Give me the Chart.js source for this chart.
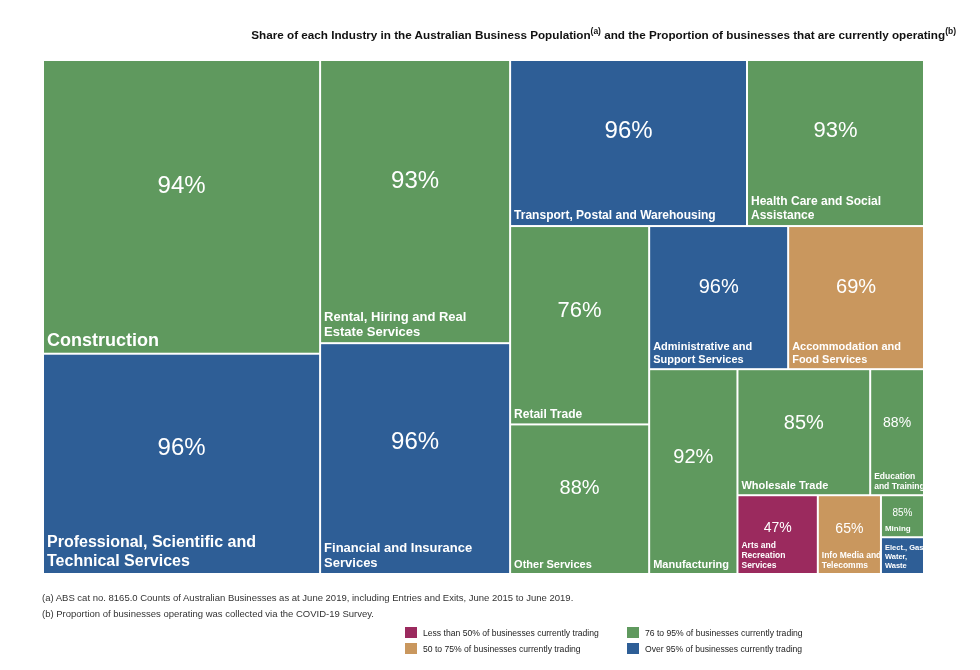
<!DOCTYPE html>
<html>
<head>
<meta charset="utf-8">
<script src="https://cdn.jsdelivr.net/npm/chart.js@4/dist/chart.umd.min.js"></script>
<style>
  body { margin: 0; background: #fff; font-family: Arial, "Liberation Sans", sans-serif; }
  #wrap { position: relative; width: 980px; height: 670px; }
  #treemap { position: absolute; left: 0; top: 0; }
  #title { position: absolute; right: 24px; top: 26px; font-size: 11.7px; font-weight: bold; color: #111; white-space: nowrap; }
  #title sup { font-size: 8.5px; }
  .note { position: absolute; left: 42px; font-size: 9.5px; color: #333; white-space: nowrap; }
  .leg { position: absolute; font-size: 8.6px; color: #222; white-space: nowrap; line-height: 12px; }
  .leg span { display: inline-block; width: 12px; height: 11px; vertical-align: top; margin-right: 6px; }
</style>
</head>
<body>
<div id="wrap">
  <canvas id="treemap" width="980" height="670"></canvas>
  <div id="title">Share of each Industry in the Australian Business Population<sup>(a)</sup> and the Proportion of businesses that are currently operating<sup>(b)</sup></div>
  <div class="note" style="top:592px">(a) ABS cat no. 8165.0 Counts of Australian Businesses as at June 2019, including Entries and Exits, June 2015 to June 2019.</div>
  <div class="note" style="top:608px">(b) Proportion of businesses operating was collected via the COVID-19 Survey.</div>
  <div id="legend"></div>
</div>
<script>
// Industries, in treemap order (largest first)
const categories = [
    ['Construction'],
    ['Professional, Scientific and', 'Technical Services'],
    ['Rental, Hiring and Real', 'Estate Services'],
    ['Financial and Insurance', 'Services'],
    ['Transport, Postal and Warehousing'],
    ['Health Care and Social', 'Assistance'],
    ['Retail Trade'],
    ['Other Services'],
    ['Administrative and', 'Support Services'],
    ['Accommodation and', 'Food Services'],
    ['Manufacturing'],
    ['Wholesale Trade'],
    ['Education', 'and Training'],
    ['Arts and', 'Recreation', 'Services'],
    ['Info Media and', 'Telecomms'],
    ['Mining'],
    ['Elect., Gas,', 'Water,', 'Waste']
];

// Share of business population (%)
const shares = [18.0, 13.5, 11.9, 9.7, 8.7, 6.5, 6.1, 4.6, 4.4, 4.3, 4.0, 3.7, 1.5, 1.4, 1.1, 0.4, 0.35];

// Proportion of businesses currently operating (%)
const operating = [94, 96, 93, 96, 96, 93, 76, 88, 96, 69, 92, 85, 88, 47, 65, 85, 96];

// how many cells go in each strip of the squarified layout
const stripSizes = [2, 2, 2, 2, 2, 1, 2, 1, 1, 1, 1];

const bandLabels = [
    'Less than 50% of businesses currently trading',
    '50 to 75% of businesses currently trading',
    '76 to 95% of businesses currently trading',
    'Over 95% of businesses currently trading'
];
const bandColors = ['#9b2a5e', '#c9975e', '#5f995e', '#2e5e96'];

function bandFor(p) {
    if (p < 50) return 0;
    if (p <= 75) return 1;
    if (p <= 95) return 2;
    return 3;
}

// strip layout in scale units (0..100 on both axes), px/py = pixels per unit
function layoutCells(px, py) {
    let rx = 0, ry = 0, rw = 100, rh = 100;
    let remaining = shares.reduce((a, b) => a + b, 0);
    const rects = [];
    let idx = 0;
    stripSizes.forEach(n => {
        const vals = shares.slice(idx, idx + n);
        const s = vals.reduce((a, b) => a + b, 0);
        if (rw * px >= rh * py) {
            const cw = rw * s / remaining;
            let y = ry;
            vals.forEach(v => { const h = rh * v / s; rects.push({ x: rx, y: y, w: cw, h: h }); y += h; });
            rx += cw; rw -= cw;
        } else {
            const ch = rh * s / remaining;
            let x = rx;
            vals.forEach(v => { const w = rw * v / s; rects.push({ x: x, y: ry, w: w, h: ch }); x += w; });
            ry += ch; rh -= ch;
        }
        remaining -= s;
        idx += n;
    });
    return rects;
}

function nameSize(d) {
    if (d >= 270) return 18;
    if (d >= 240) return 16;
    if (d >= 200) return 13;
    if (d >= 160) return 12;
    if (d >= 110) return 11;
    if (d >= 60) return 8.5;
    if (d >= 40) return 8;
    return 7.5;
}
function pctSize(d) {
    if (d >= 190) return 24;
    if (d >= 155) return 22;
    if (d >= 115) return 20;
    if (d >= 60) return 14;
    return 10;
}

const treemapPlugin = {
    id: 'treemapCells',
    afterDatasetsDraw(chart) {
        const ctx = chart.ctx;
        const xs = chart.scales.x, ys = chart.scales.y;
        const px = Math.abs(xs.getPixelForValue(100) - xs.getPixelForValue(0)) / 100;
        const py = Math.abs(ys.getPixelForValue(100) - ys.getPixelForValue(0)) / 100;
        const rects = layoutCells(px, py);
        const font = 'Arial, "Liberation Sans", sans-serif';
        ctx.save();
        rects.forEach((r, i) => {
            const x0 = xs.getPixelForValue(r.x), x1 = xs.getPixelForValue(r.x + r.w);
            const y0 = ys.getPixelForValue(r.y), y1 = ys.getPixelForValue(r.y + r.h);
            const w = x1 - x0, h = y1 - y0;
            ctx.fillStyle = bandColors[bandFor(operating[i])];
            ctx.fillRect(x0 + 1, y0 + 1, w - 2, h - 2);

            const d = Math.sqrt(w * h);
            const ns = nameSize(d), ps = pctSize(d);
            const lines = categories[i];
            const lh = ns * 1.2;
            ctx.fillStyle = '#fff';
            ctx.textAlign = 'left';
            ctx.textBaseline = 'alphabetic';
            ctx.font = 'bold ' + ns + 'px ' + font;
            lines.forEach((t, k) => {
                const by = y1 - 4 - ns * 0.22 - (lines.length - 1 - k) * lh;
                ctx.fillText(t, x0 + 4, by);
            });
            const block = lines.length * lh + 4;
            if (h - block - 6 >= ps) {
                let cy = y0 + h * 0.43;
                cy = Math.min(cy, y1 - block - ps / 2 - 4);
                ctx.font = ps + 'px ' + font;
                ctx.textAlign = 'center';
                ctx.textBaseline = 'middle';
                ctx.fillText(operating[i] + '%', x0 + w / 2, cy);
            }
        });
        ctx.restore();
    }
};

function buildLegend() {
    const box = document.getElementById('legend');
    const pos = [[405, 627], [405, 643], [627, 627], [627, 643]];
    bandLabels.forEach((t, i) => {
        const el = document.createElement('div');
        el.className = 'leg';
        el.style.left = pos[i][0] + 'px';
        el.style.top = pos[i][1] + 'px';
        el.innerHTML = '<span style="background:' + bandColors[i] + '"></span>' + t;
        box.appendChild(el);
    });
}

document.addEventListener('DOMContentLoaded', function() {
    buildLegend();
    const ctx = document.getElementById('treemap').getContext('2d');
    new Chart(ctx, {
        type: 'scatter',
        data: { datasets: [{ data: [], pointRadius: 0 }] },
        options: {
            responsive: false,
            animation: false,
            layout: { padding: { left: 43, top: 60, right: 56, bottom: 96 } },
            scales: {
                x: { type: 'linear', min: 0, max: 100, display: false },
                y: { type: 'linear', min: 0, max: 100, reverse: true, display: false }
            },
            plugins: { legend: { display: false }, tooltip: { enabled: false } }
        },
        plugins: [treemapPlugin]
    });
});
</script>
</body>
</html>
